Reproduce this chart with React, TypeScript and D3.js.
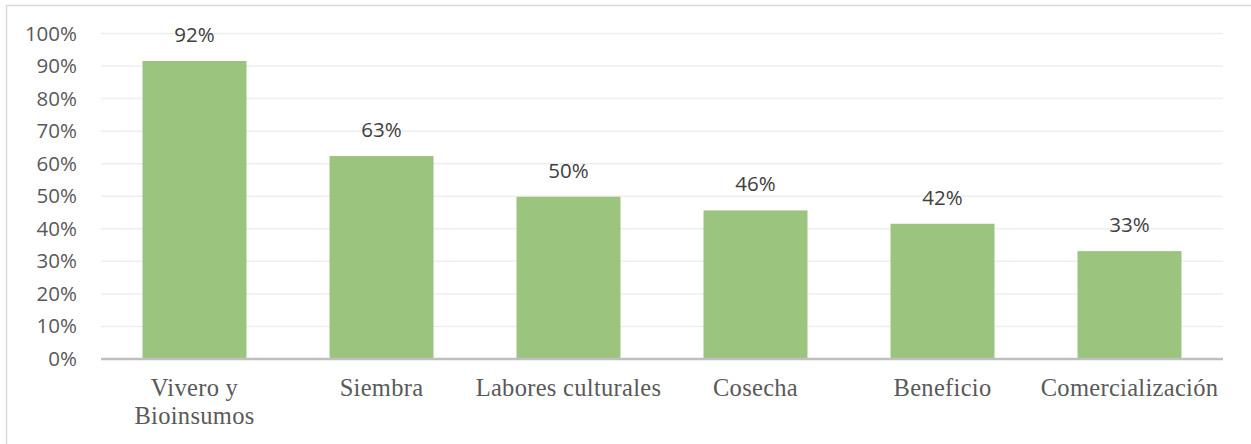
import React from "react";
import * as d3 from "d3";

const categories: string[][] = [
  ["Vivero y", "Bioinsumos"],
  ["Siembra"],
  ["Labores culturales"],
  ["Cosecha"],
  ["Beneficio"],
  ["Comercialización"],
];
const values: number[] = [0.917, 0.625, 0.5, 0.458, 0.417, 0.333];
const yTicks: number[] = [0, 0.1, 0.2, 0.3, 0.4, 0.5, 0.6, 0.7, 0.8, 0.9, 1.0];

const W = 1251;
const H = 444;
const left = 101;
const right = 1223;
const top = 33.5;
const bottom = 359;

export default function App() {
  const x = d3
    .scaleBand<number>()
    .domain(values.map((_, i) => i))
    .range([left, right])
    .paddingInner(0.444)
    .paddingOuter(0.222);
  const y = d3.scaleLinear().domain([0, 1]).range([bottom, top]);
  const fmt = d3.format(".0%");
  const sans = "'Open Sans', 'Noto Sans', sans-serif";
  const serif = "'Liberation Serif', 'DejaVu Serif', serif";

  return (
    <>
      <style>{`body{margin:0}`}</style>
      <svg width={W} height={H} style={{ display: "block", background: "#fff" }}>
        <rect x={6.5} y={5.5} width={W + 10} height={H + 10} fill="#fff" stroke="#d9d9d9" strokeWidth={1.5} />
        {yTicks.map((t) => (
          <g key={t}>
            {t > 0 && (
              <line x1={left} x2={right} y1={y(t)} y2={y(t)} stroke="#eeeeee" strokeWidth={1.5} />
            )}
            <text
              x={77}
              y={y(t) + 7}
              textAnchor="end"
              fontFamily={sans}
              fontSize={20.5}
              fill="#595959"
            >
              {fmt(t)}
            </text>
          </g>
        ))}
        {values.map((v, i) => (
          <g key={i}>
            <rect
              x={x(i)!}
              y={y(v) + 0.5}
              width={x.bandwidth()}
              height={bottom - y(v) - 0.5}
              fill="#9bc47f"
            />
            <text
              x={x(i)! + x.bandwidth() / 2}
              y={y(v) - 18.5}
              textAnchor="middle"
              fontFamily={sans}
              fontSize={20.5}
              fill="#404040"
            >
              {fmt(v)}
            </text>
          </g>
        ))}
        <line x1={left} x2={right} y1={bottom} y2={bottom} stroke="#bfbfbf" strokeWidth={2.5} />
        {categories.map((lines, i) =>
          lines.map((ln, j) => (
            <text
              key={i + "-" + j}
              x={x(i)! + x.bandwidth() / 2}
              y={396 + j * 27.5}
              textAnchor="middle"
              fontFamily={serif}
              fontSize={24.5}
              letterSpacing={0.3}
              fill="#595959"
            >
              {ln}
            </text>
          ))
        )}
      </svg>
    </>
  );
}
